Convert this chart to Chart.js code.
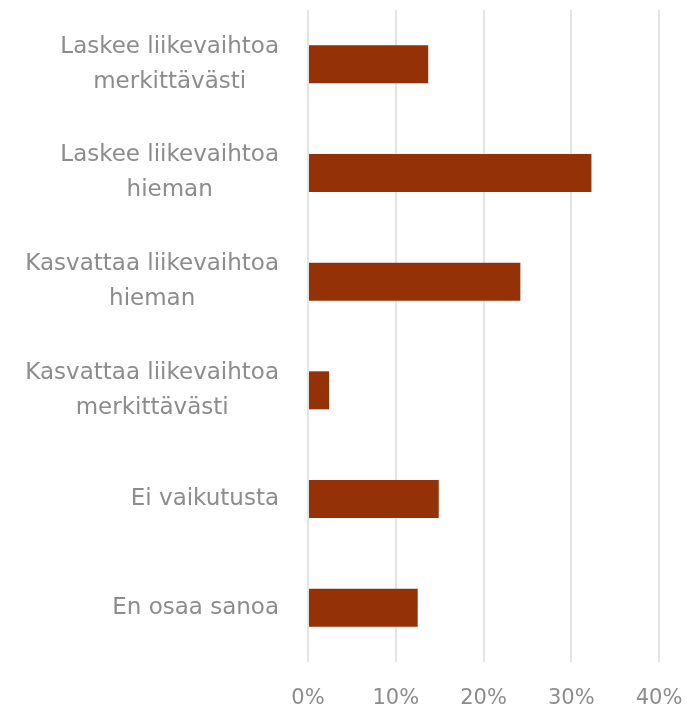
<!DOCTYPE html>
<html>
<head>
<meta charset="utf-8">
<script src="https://cdn.jsdelivr.net/npm/chart.js@4"></script>
<style>
html,body{margin:0;padding:0;background:#fff;}
#wrap{width:688px;height:710px;position:relative;}
</style>
</head>
<body>
<div id="wrap"><canvas id="c"></canvas></div>
<script>
const categories = [
  ["Laskee liikevaihtoa", "merkittävästi"],
  ["Laskee liikevaihtoa", "hieman"],
  ["Kasvattaa liikevaihtoa", "hieman"],
  ["Kasvattaa liikevaihtoa", "merkittävästi"],
  "Ei vaikutusta",
  "En osaa sanoa"
];
const values = [13.7, 32.3, 24.2, 2.4, 14.9, 12.5];
const xTicks = [0, 10, 20, 30, 40];

const FONT = "'DejaVu Sans', sans-serif";
const TEXT = '#8c8c8c';
const LABEL_SIZE = 23;
const LABEL_LH = 35;

const centeredLabels = {
  id: 'centeredLabels',
  afterDraw(chart) {
    const ys = chart.scales.y;
    const ctx = chart.ctx;
    ctx.save();
    ctx.font = `${LABEL_SIZE}px ${FONT}`;
    ctx.fillStyle = TEXT;
    ctx.textAlign = 'center';
    ctx.textBaseline = 'middle';
    const right = chart.chartArea.left - 29;
    categories.forEach((lab, i) => {
      const lines = Array.isArray(lab) ? lab : [lab];
      const w = Math.max(...lines.map(l => ctx.measureText(l).width));
      const cx = right - w / 2;
      const cy = ys.getPixelForTick(i);
      const y0 = cy - (lines.length - 1) * LABEL_LH / 2;
      lines.forEach((l, j) => ctx.fillText(l, cx, y0 + j * LABEL_LH));
    });
    ctx.restore();
  }
};

new Chart(document.getElementById('c'), {
  type: 'bar',
  data: {
    labels: categories,
    datasets: [{
      data: values,
      backgroundColor: '#943106',
      barPercentage: 0.7,
      categoryPercentage: 0.5
    }]
  },
  plugins: [centeredLabels],
  options: {
    indexAxis: 'y',
    responsive: true,
    maintainAspectRatio: false,
    animation: false,
    layout: { padding: { top: 10, right: 29, bottom: 0, left: 0 } },
    plugins: { legend: { display: false }, tooltip: { enabled: false } },
    scales: {
      x: {
        min: 0, max: 40,
        afterBuildTicks(scale) { scale.ticks = xTicks.map(v => ({ value: v })); },
        ticks: {
          callback: v => v + '%',
          color: TEXT,
          font: { family: FONT, size: 21 },
          padding: 24
        },
        grid: { color: '#e4e4e4', lineWidth: 2, drawTicks: false },
        border: { display: false },
        afterFit(scale) { scale.height = 48; scale.paddingRight = 0; scale.paddingLeft = 0; }
      },
      y: {
        ticks: { display: false },
        grid: { display: false, drawTicks: false },
        border: { display: false },
        afterFit(scale) { scale.width = 308; }
      }
    }
  }
});
</script>
</body>
</html>
